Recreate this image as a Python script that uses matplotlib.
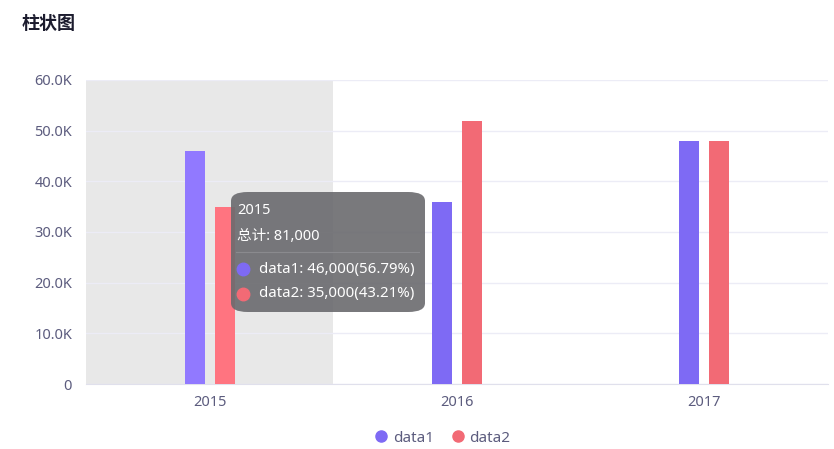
import numpy as np
import matplotlib.pyplot as plt
from matplotlib.patches import FancyBboxPatch
from matplotlib.lines import Line2D

plt.rcParams['font.family'] = ['Noto Sans', 'Noto Sans CJK SC', 'DejaVu Sans']

# data
years = ['2015', '2016', '2017']
data1 = [46000, 36000, 48000]
data2 = [35000, 52000, 48000]
yticks = [0, 10000, 20000, 30000, 40000, 50000, 60000]
ytick_labels = ['0', '10.0K', '20.0K', '30.0K', '40.0K', '50.0K', '60.0K']

c1 = '#7E6AF4'
c2 = '#F26A75'
c1_hi = '#9179FF'
c2_hi = '#FF7480'
label_color = '#5C5C7E'

fig = plt.figure(figsize=(8.34, 4.49), dpi=100)
ax = fig.add_axes([86 / 834, 65 / 449, 742 / 834, 304 / 449])

x = np.arange(len(years))
w = 20 / 247
off = 15 / 247

# hover shadow on first category
ax.axvspan(-0.5, 0.5, color='#E8E8E8', zorder=0, lw=0)

cols1 = [c1_hi, c1, c1]
cols2 = [c2_hi, c2, c2]
ax.bar(x - off, data1, width=w, color=cols1, zorder=3)
ax.bar(x + off, data2, width=w, color=cols2, zorder=3)

ax.set_xlim(-0.5, 2.5)
ax.set_ylim(0, 60000)
ax.set_yticks(yticks)
ax.set_yticklabels(ytick_labels)
ax.set_xticks(x)
ax.set_xticklabels(years)
ax.grid(axis='y', color='#ECECF6', lw=1, zorder=1)
for s in ['top', 'right', 'left']:
    ax.spines[s].set_visible(False)
ax.spines['bottom'].set_color('#E0E0EC')
ax.tick_params(axis='both', length=0, labelsize=10.5, colors=label_color)
ax.tick_params(axis='y', pad=10)
ax.tick_params(axis='x', pad=8)
ax.set_facecolor('none')

fig.text(22 / 834, 1 - 23 / 449, '柱状图', fontsize=13, fontweight='bold',
         color='#1C1C2E', va='center', ha='left', family='Noto Sans CJK SC')

# legend
handles = [Line2D([], [], marker='o', ls='', color=c1, markersize=8),
           Line2D([], [], marker='o', ls='', color=c2, markersize=8)]
fig.legend(handles, ['data1', 'data2'], loc='center', ncol=2,
           bbox_to_anchor=(440 / 834, 1 - 438 / 449), frameon=False,
           handletextpad=0.0, columnspacing=0.8, fontsize=11,
           handlelength=1.5, labelcolor=label_color)

# tooltip
tot = data1[0] + data2[0]
tx0, ty0, tw, th = 231, 192, 194, 120
box = FancyBboxPatch((tx0 / 834, 1 - (ty0 + th) / 449), tw / 834, th / 449,
                     boxstyle='round,pad=0,rounding_size=0.02',
                     transform=fig.transFigure, fc='#6A6A6E', ec='none',
                     alpha=0.9, zorder=10)
fig.patches.append(box)
tc = 'white'
fig.text(237 / 834, 1 - 210 / 449, years[0], fontsize=10.5, color=tc,
         va='center', zorder=11)
fig.text(237 / 834, 1 - 237 / 449, f'总计: {tot:,}', fontsize=10.5, color=tc,
         va='center', zorder=11)
fig.add_artist(Line2D([236 / 834, 419 / 834], [1 - 252 / 449, 1 - 252 / 449],
                      color='#8A8A8E', lw=0.8, zorder=11))
for i, (nm, v, c) in enumerate([('data1', data1[0], c1), ('data2', data2[0], c2)]):
    yy = 1 - (269 + 25 * i) / 449
    fig.add_artist(Line2D([243 / 834], [yy], marker='o', ls='', color=c,
                          markersize=9, zorder=11))
    fig.text(259 / 834, yy, f'{nm}: {v:,}({v / tot * 100:.2f}%)', fontsize=10.8,
             color=tc, va='center', zorder=11)

fig.savefig('out.png', dpi=100)
